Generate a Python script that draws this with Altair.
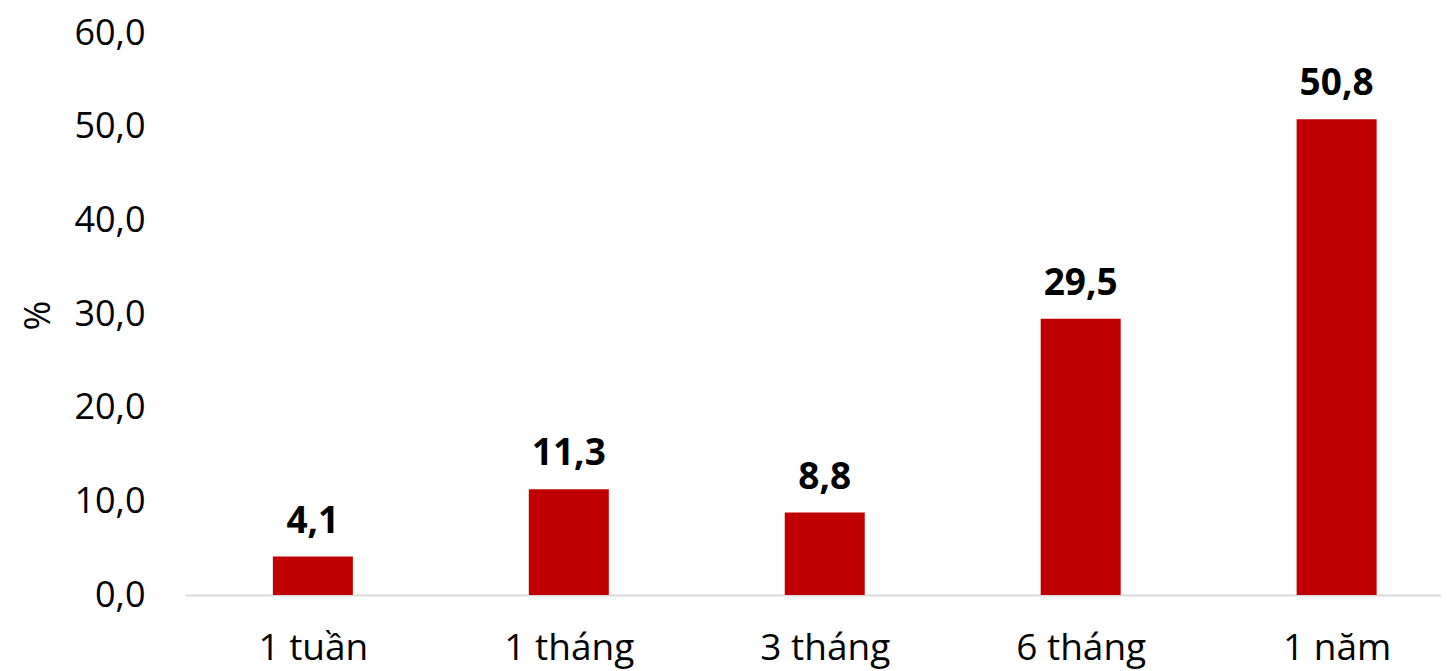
import altair as alt
import pandas as pd

categories = ["1 tuần", "1 tháng", "3 tháng", "6 tháng", "1 năm"]
positions = [0, 1, 2, 3, 4]
values = [4.1, 11.3, 8.8, 29.5, 50.8]
labels = ["4,1", "11,3", "8,8", "29,5", "50,8"]

df = pd.DataFrame({"pos": positions, "cat": categories, "val": values, "lab": labels})

FONT = "Open Sans"
WIDTH = 1256
STEP = 258

cat_array = "[" + ",".join("'" + c + "'" for c in categories) + "]"

x = alt.X(
    "pos:Q",
    title=None,
    scale=alt.Scale(domain=[-0.48, -0.48 + WIDTH / STEP], nice=False, zero=False),
    axis=alt.Axis(
        values=positions,
        labelExpr=cat_array + "[datum.value]",
        labelFontSize=37,
        labelFont=FONT,
        labelColor="#000000",
        labelPadding=35,
        labelFlush=False,
        labelOverlap=False,
        ticks=False,
        grid=False,
        domainColor="#D9D9D9",
        domainWidth=2,
    ),
)
y = alt.Y(
    "val:Q",
    title="%",
    scale=alt.Scale(domain=[0, 60], nice=False),
    axis=alt.Axis(
        values=[0, 10, 20, 30, 40, 50, 60],
        labelExpr="replace(format(datum.value, '.1f'), '.', ',')",
        labelFontSize=36,
        labelFont=FONT,
        labelColor="#000000",
        labelPadding=40,
        ticks=False,
        domain=False,
        grid=False,
        titleFont=FONT,
        titleFontSize=36,
        titleFontWeight="normal",
        titleColor="#000000",
        titleAngle=270,
        titleAlign="center",
        titleBaseline="middle",
        titleX=-147,
        titleY=282,
    ),
)

bars = alt.Chart(df).mark_bar(color="#C00000", size=80).encode(x=x, y=y)
text = alt.Chart(df).mark_text(
    font=FONT, fontSize=37, fontWeight="bold", color="#000000",
    baseline="alphabetic", dy=-24,
).encode(x=x, y=y, text="lab:N")

chart = (bars + text).properties(
    width=WIDTH,
    height=562,
    padding={"left": 177, "top": 25, "right": 0, "bottom": 76},
    autosize=alt.AutoSizeParams(type="none"),
).configure_view(stroke=None)

chart.save("out.html", embed_options={"renderer": "svg", "actions": False})
